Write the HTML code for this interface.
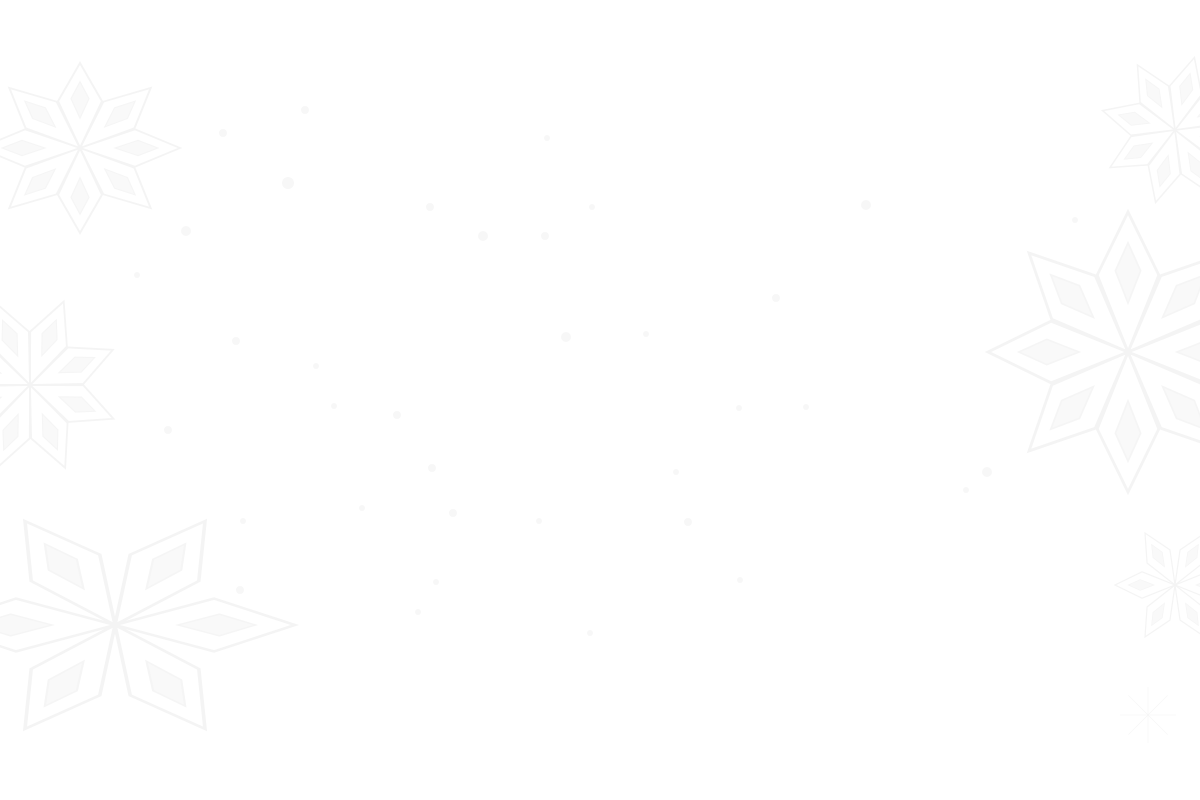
<!DOCTYPE html>
<html>
<head>
<meta charset="utf-8">
<style>
html,body{margin:0;padding:0;background:#fff;}
body{width:1200px;height:800px;overflow:hidden;}
svg{display:block;}
</style>
</head>
<body>
<svg width="1200" height="800" viewBox="0 0 1200 800" xmlns="http://www.w3.org/2000/svg">
<defs>
  <g id="petal">
    <path d="M0,0 L22,-55 L0,-100 L-22,-55 Z" fill="none" stroke="#f4f4f4" stroke-width="2"/>
    <path d="M0,-35 L9,-58 L0,-78 L-9,-58 Z" fill="#f9f9f9" stroke="#f5f5f5" stroke-width="1.2"/>
  </g>
  <g id="flake8">
    <use href="#petal"/>
    <use href="#petal" transform="rotate(45)"/>
    <use href="#petal" transform="rotate(90)"/>
    <use href="#petal" transform="rotate(135)"/>
    <use href="#petal" transform="rotate(180)"/>
    <use href="#petal" transform="rotate(225)"/>
    <use href="#petal" transform="rotate(270)"/>
    <use href="#petal" transform="rotate(315)"/>
  </g>
  <g id="flake6">
    <use href="#petal"/>
    <use href="#petal" transform="rotate(60)"/>
    <use href="#petal" transform="rotate(120)"/>
    <use href="#petal" transform="rotate(180)"/>
    <use href="#petal" transform="rotate(240)"/>
    <use href="#petal" transform="rotate(300)"/>
  </g>
  <g id="star">
    <g stroke="#f5f5f5" stroke-width="2">
      <line x1="0" y1="-100" x2="0" y2="100"/>
      <line x1="-100" y1="0" x2="100" y2="0"/>
      <line x1="-70" y1="-70" x2="70" y2="70"/>
      <line x1="-70" y1="70" x2="70" y2="-70"/>
    </g>
  </g>
</defs>

<g transform="translate(80,148) scale(1.0,0.85)"><use href="#flake8"/></g>
<g transform="translate(30,385) scale(0.9) rotate(22)"><use href="#flake8"/></g>
<g transform="translate(115,625) scale(1.8,1.2) rotate(30)"><use href="#flake6"/></g>
<g transform="translate(1175,130) scale(0.75) rotate(15)"><use href="#flake8"/></g>
<g transform="translate(1128,352) scale(1.4)"><use href="#flake8"/></g>
<g transform="translate(1175,585) scale(0.6) rotate(30)"><use href="#flake6"/></g>
<g transform="translate(1148,715) scale(0.28)"><use href="#star"/></g>

<g fill="#f7f7f7">
  <circle cx="305" cy="110" r="4"/>
  <circle cx="223" cy="133" r="4"/>
  <circle cx="288" cy="183" r="6"/>
  <circle cx="186" cy="231" r="5"/>
  <circle cx="137" cy="275" r="3"/>
  <circle cx="547" cy="138" r="3"/>
  <circle cx="430" cy="207" r="4"/>
  <circle cx="592" cy="207" r="3"/>
  <circle cx="483" cy="236" r="5"/>
  <circle cx="545" cy="236" r="4"/>
  <circle cx="866" cy="205" r="5"/>
  <circle cx="776" cy="298" r="4"/>
  <circle cx="566" cy="337" r="5"/>
  <circle cx="646" cy="334" r="3"/>
  <circle cx="236" cy="341" r="4"/>
  <circle cx="397" cy="415" r="4"/>
  <circle cx="432" cy="468" r="4"/>
  <circle cx="739" cy="408" r="3"/>
  <circle cx="806" cy="407" r="3"/>
  <circle cx="987" cy="472" r="5"/>
  <circle cx="168" cy="430" r="4"/>
  <circle cx="453" cy="513" r="4"/>
  <circle cx="688" cy="522" r="4"/>
  <circle cx="240" cy="590" r="4"/>
  <circle cx="436" cy="582" r="3"/>
  <circle cx="418" cy="612" r="3"/>
  <circle cx="740" cy="580" r="3"/>
  <circle cx="590" cy="633" r="3"/>
  <circle cx="1075" cy="220" r="3"/>
  <circle cx="966" cy="490" r="3"/>
  <circle cx="316" cy="366" r="3"/>
  <circle cx="334" cy="406" r="3"/>
  <circle cx="362" cy="508" r="3"/>
  <circle cx="539" cy="521" r="3"/>
  <circle cx="676" cy="472" r="3"/>
  <circle cx="243" cy="521" r="3"/>
</g>
</svg>
</body>
</html>
